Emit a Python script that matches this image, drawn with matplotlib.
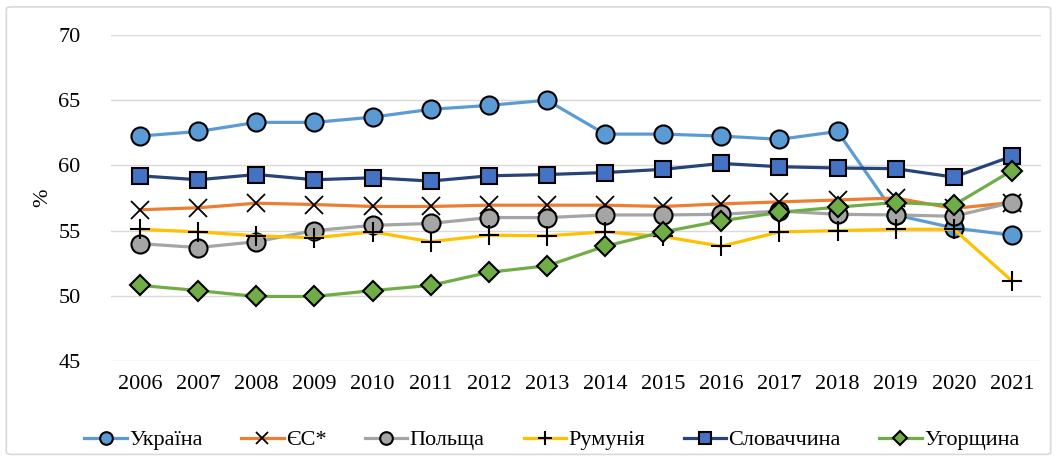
import matplotlib
matplotlib.use('Agg')
import matplotlib.pyplot as plt
from matplotlib.patches import FancyBboxPatch

years = [str(y) for y in range(2006, 2022)]

ukraine = [62.25, 62.6, 63.3, 63.3, 63.7, 64.3, 64.6, 65.0,
           62.4, 62.4, 62.25, 62.0, 62.6, 56.2, 55.2, 54.65]
eu = [56.6, 56.75, 57.1, 57.0, 56.85, 56.85, 56.95, 56.95,
      56.95, 56.85, 57.05, 57.2, 57.35, 57.5, 56.7, 57.15]
poland = [54.0, 53.7, 54.15, 55.0, 55.4, 55.55, 56.0, 56.0,
          56.2, 56.2, 56.25, 56.5, 56.25, 56.2, 56.1, 57.15]
romania = [55.1, 54.9, 54.6, 54.45, 54.9, 54.15, 54.65, 54.6,
           54.9, 54.55, 53.8, 54.9, 55.0, 55.1, 55.1, 51.15]
slovakia = [59.2, 58.9, 59.3, 58.9, 59.05, 58.8, 59.2, 59.3,
            59.45, 59.7, 60.15, 59.9, 59.8, 59.75, 59.1, 60.7]
hungary = [50.8, 50.4, 49.95, 49.95, 50.4, 50.8, 51.8, 52.3,
           53.8, 54.9, 55.75, 56.4, 56.8, 57.15, 56.95, 59.6]

names = ['Україна', 'ЄС*', 'Польща', 'Румунія', 'Словаччина', 'Угорщина']

plt.rcParams['font.family'] = ['Liberation Serif', 'DejaVu Serif']
plt.rcParams['font.size'] = 16

fig = plt.figure(figsize=(10.57, 4.59), dpi=100)
ax = fig.add_axes([111 / 1057, 1 - 361 / 459, 930 / 1057, 326 / 459])

fig.patches.append(FancyBboxPatch((0.006, 0.01), 0.988, 0.975,
                                  boxstyle='round,pad=0,rounding_size=0.005',
                                  transform=fig.transFigure, fill=False,
                                  edgecolor='#d9d9d9', linewidth=1.2))

x = list(range(len(years)))
lw = 2.3
ax.plot(x, ukraine, color='#5B9BD5', lw=lw, marker='o', ms=13,
        mfc='#5B9BD5', mec='black', mew=1.5, label=names[0])
ax.plot(x, eu, color='#ED7D31', lw=lw, marker='x', ms=13,
        mec='black', mew=1.3, label=names[1])
ax.plot(x, poland, color='#A5A5A5', lw=lw, marker='o', ms=13,
        mfc='#A5A5A5', mec='black', mew=1.5, label=names[2])
ax.plot(x, romania, color='#FFC000', lw=lw, marker='+', ms=15,
        mec='black', mew=1.5, label=names[3])
ax.plot(x, slovakia, color='#264478', lw=lw, marker='s', ms=12,
        mfc='#4472C4', mec='black', mew=1.5, label=names[4])
ax.plot(x, hungary, color='#70AD47', lw=lw, marker='D', ms=10,
        mfc='#70AD47', mec='black', mew=1.5, label=names[5])

ax.set_xlim(-0.5, len(years) - 0.5)
ax.set_ylim(45, 70)
ax.set_yticks(range(45, 71, 5))
ax.set_xticks(x)
ax.set_xticklabels(years)
ax.grid(axis='y', color='#d9d9d9', lw=1)
ax.set_axisbelow(True)
for s in ax.spines.values():
    s.set_visible(False)
ax.tick_params(length=0)
ax.tick_params(axis='x', pad=10)
ax.tick_params(axis='y', pad=22)
ax.set_ylabel('%', labelpad=4)

ax.legend(loc='upper center', bbox_to_anchor=(0.474, -0.15), ncol=6,
          frameon=False, handlelength=1.9, handletextpad=0.1,
          columnspacing=1.75, markerscale=0.7)

fig.savefig('out.png', dpi=100)
